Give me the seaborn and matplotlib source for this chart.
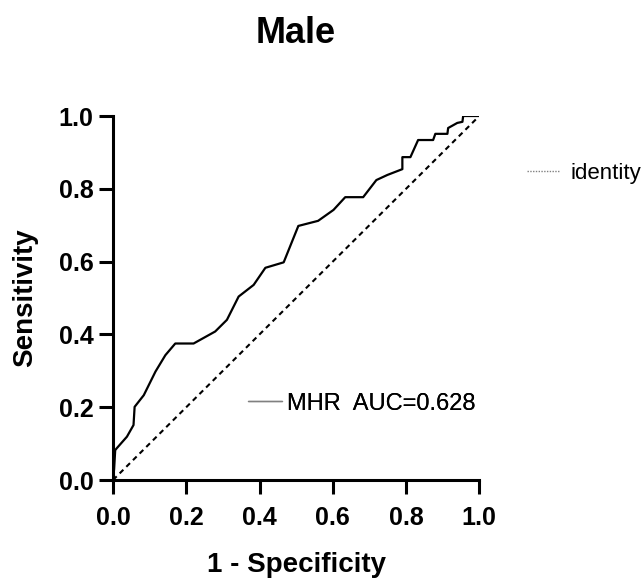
import pandas as pd
import matplotlib
matplotlib.use("Agg")
import matplotlib.pyplot as plt
from matplotlib.lines import Line2D
import seaborn as sns

# ROC curve points (1 - specificity, sensitivity)
fpr = [0.0, 0.003, 0.006, 0.01, 0.038, 0.056, 0.059, 0.084, 0.116, 0.143, 0.170,
       0.220, 0.279, 0.311, 0.343, 0.384, 0.416, 0.466, 0.506, 0.560, 0.602,
       0.634, 0.683, 0.719, 0.749, 0.790, 0.790, 0.812, 0.833, 0.874, 0.880,
       0.913, 0.915, 0.940, 0.954, 0.956, 1.0]
tpr = [0.0, 0.03, 0.082, 0.087, 0.119, 0.151, 0.201, 0.233, 0.298, 0.343, 0.375,
       0.375, 0.408, 0.440, 0.504, 0.536, 0.583, 0.598, 0.698, 0.712, 0.742,
       0.777, 0.777, 0.824, 0.838, 0.854, 0.887, 0.887, 0.934, 0.934, 0.951,
       0.951, 0.967, 0.981, 0.984, 1.0, 1.0]
identity = [0.0, 1.0]
ticks = [0.0, 0.2, 0.4, 0.6, 0.8, 1.0]
auc_label = "MHR  AUC=0.628"

sns.set_theme(style="ticks")
plt.rcParams['font.family'] = ['Liberation Sans', 'DejaVu Sans']
plt.rcParams['text.color'] = 'black'
plt.rcParams['axes.labelcolor'] = 'black'

fig = plt.figure(figsize=(6.41, 5.8), dpi=100)
ax = fig.add_axes([0.1763, 0.1724, 0.5714, 0.6276])

roc = pd.DataFrame({"fpr": fpr, "tpr": tpr})
sns.lineplot(data=roc, x="fpr", y="tpr", ax=ax, color="black", linewidth=1.6,
             estimator=None, sort=False)
diag = pd.DataFrame({"x": identity, "y": identity})
sns.lineplot(data=diag, x="x", y="y", ax=ax, color="black", linewidth=1.5,
             linestyle=(0, (2.5, 2)))

ax.set_xlim(0, 1)
ax.set_ylim(0, 1)
ax.set_xticks(ticks)
ax.set_yticks(ticks)
ax.set_xticklabels([f"{t:.1f}" for t in ticks], fontweight="bold")
ax.set_yticklabels([f"{t:.1f}" for t in ticks], fontweight="bold")
ax.tick_params(axis="both", direction="out", length=10, width=2.2,
               labelsize=18, color="black", labelcolor="black")
ax.tick_params(axis="x", pad=9)
ax.tick_params(axis="y", pad=4)
for side in ["left", "bottom"]:
    ax.spines[side].set_linewidth(2.2)
    ax.spines[side].set_color("black")
sns.despine(ax=ax)

ax.set_xlabel("1 - Specificity", fontsize=20, fontweight="bold", va="top")
ax.set_ylabel("Sensitivity", fontsize=20, fontweight="bold")
ax.xaxis.set_label_coords(0.5, -0.198)
ax.yaxis.set_label_coords(-0.205, 0.5)

ax.text(0.5, 1.2005, "Male", transform=ax.transAxes, ha="center", va="baseline",
        fontsize=26, fontweight="bold")

h1 = Line2D([], [], color="#808080", linewidth=1.0)
leg1 = ax.legend([h1], [auc_label], loc="center left", bbox_to_anchor=(0.369, 0.21),
                 frameon=False, borderpad=0, borderaxespad=0, handlelength=1.45,
                 handletextpad=0.2, fontsize=17)
ax.add_artist(leg1)

h2 = Line2D([], [], color="#808080", linewidth=1.0, linestyle=(0, (1, 1)))
fig.legend([h2], ["identity"], loc="center left", bbox_to_anchor=(0.822, 0.7017),
           frameon=False, borderpad=0, borderaxespad=0, handlelength=1.5,
           handletextpad=0.45, fontsize=16)

fig.savefig("out.png", dpi=100)
